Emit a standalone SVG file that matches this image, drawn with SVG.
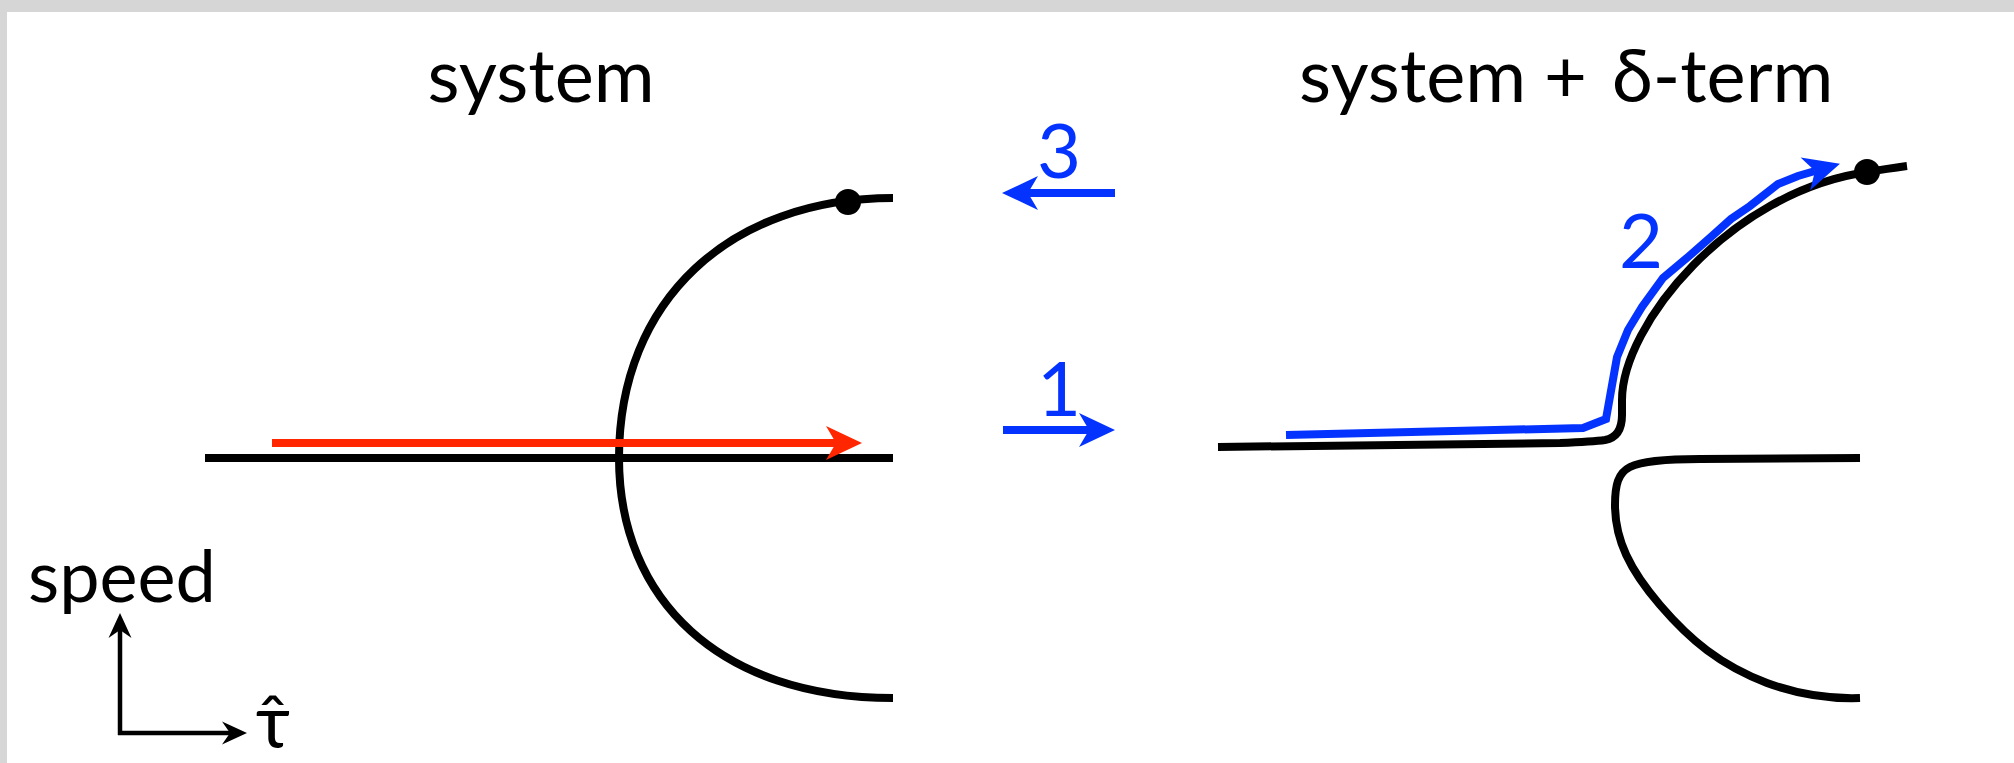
<svg xmlns="http://www.w3.org/2000/svg" width="2014" height="763" viewBox="0 0 2014 763">
<style>
.t{font-family:Lato,"Noto Sans","DejaVu Sans",sans-serif;font-size:74px;fill:#000}
.n{font-family:Lato,"Noto Sans","DejaVu Sans",sans-serif;font-size:76px;fill:#0433FF;text-anchor:middle}
.k{fill:none;stroke:#000;stroke-width:8;stroke-linecap:butt;stroke-linejoin:round}
.b{fill:none;stroke:#0433FF;stroke-width:8;stroke-linejoin:miter}
.r{fill:none;stroke:#FF2600;stroke-width:8}
.ax{fill:none;stroke:#000;stroke-width:4.5}
</style>
<defs>
<marker id="mr" viewBox="-12 -18 40 36" markerWidth="40" markerHeight="36" refX="0" refY="0" orient="auto" markerUnits="userSpaceOnUse"><path d="M26,0 L-10,-17 L0,0 L-10,17 Z" fill="#FF2600"/></marker>
<marker id="mb" viewBox="-12 -18 40 36" markerWidth="40" markerHeight="36" refX="0" refY="0" orient="auto" markerUnits="userSpaceOnUse"><path d="M26,0 L-10,-17 L0,0 L-10,17 Z" fill="#0433FF"/></marker>
<marker id="mk" viewBox="-10 -13 30 26" markerWidth="30" markerHeight="26" refX="0" refY="0" orient="auto" markerUnits="userSpaceOnUse"><path d="M17,0 L-8,-11.5 L0,0 L-8,11.5 Z" fill="#000"/></marker>
</defs>
<rect x="0" y="0" width="2014" height="763" fill="#fff"/>
<rect x="0" y="0" width="2014" height="12" fill="#d6d6d6"/>
<rect x="0" y="0" width="7" height="763" fill="#d6d6d6"/>

<g id="title-left"><text class="t" x="541" y="102" text-anchor="middle">system</text></g>
<g id="title-right"><text class="t" x="1299" y="102">system <tspan x="1544">+</tspan> <tspan x="1612">δ-term</tspan></text></g>

<g id="left-system">
<line class="k" x1="205" y1="458" x2="893" y2="458"/>
<path class="k" d="M893,198 C730,198 619,300 619,458 C619,600 720,698 893,698"/>
<circle cx="848" cy="202" r="13" fill="#000"/>
</g>

<g id="right-system">
<path class="k" d="M1218,447 L1560,443 C1585,442 1598,441 1605,440 C1616,438 1622,430 1622,415 L1622,400 C1622,325 1730,192 1867,172 C1880,170 1895,167.5 1907,166"/>
<path class="k" d="M1860,458 L1700,459 C1660,459 1640,462 1630,467 C1618,473 1615,485 1615,505 C1615,540 1630,570 1660,605 C1690,640 1720,665 1767,683 C1800,695 1830,699 1860,698"/>
<circle cx="1867" cy="172" r="13" fill="#000"/>
</g>

<g id="connectors">
<line class="r" x1="272" y1="443" x2="836" y2="443" marker-end="url(#mr)"/>
<line class="b" x1="1115" y1="193" x2="1028" y2="193" marker-end="url(#mb)"/>
<line class="b" x1="1003" y1="430" x2="1089" y2="430" marker-end="url(#mb)"/>
<polyline class="b" points="1286,435 1583,428 1606,419 1617,357 1628,330 1642,307 1663,278 1688,257 1712,236 1731,219 1750,206 1778,184 1798,176 1815,171" marker-end="url(#mb)"/>
</g>

<g id="labels">
<text class="n" x="1059" y="178">3</text>
<text class="n" x="1059" y="416">1</text>
<text class="n" x="1641" y="268">2</text>
</g>

<g id="axes">
<line class="ax" x1="120" y1="735" x2="120" y2="630" marker-end="url(#mk)"/>
<line class="ax" x1="118" y1="733" x2="230" y2="733" marker-end="url(#mk)"/>
<text class="t" x="28" y="602" style="font-size:72px">speed</text>
<text class="t" x="273" y="748" text-anchor="middle">τ̂</text>
</g>
</svg>
